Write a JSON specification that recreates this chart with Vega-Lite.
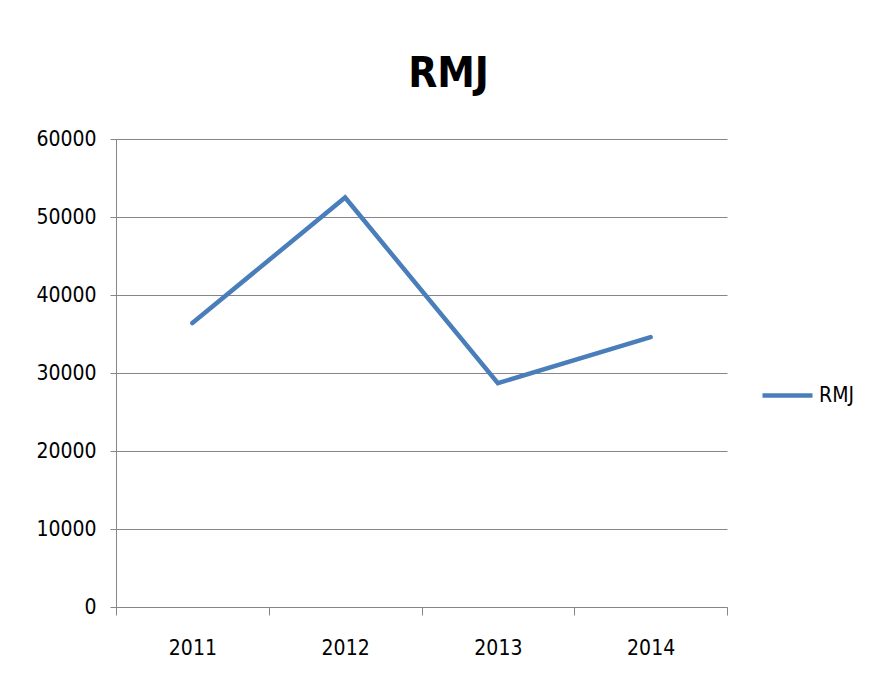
{
  "$schema": "https://vega.github.io/schema/vega-lite/v6.json",
  "width": 611,
  "height": 468,
  "autosize": {"type": "none"},
  "padding": {"left": 116, "top": 139, "right": 157, "bottom": 78},
  "background": "white",
  "title": {
    "text": "RMJ",
    "font": "DejaVu Sans Condensed, Liberation Sans, sans-serif",
    "fontSize": 42,
    "fontWeight": "bold",
    "color": "#000000",
    "anchor": "middle",
    "dx": 27,
    "offset": 32
  },
  "data": {
    "values": [
      {"year": "2011", "value": 36400, "series": "RMJ"},
      {"year": "2012", "value": 52500, "series": "RMJ"},
      {"year": "2013", "value": 28700, "series": "RMJ"},
      {"year": "2014", "value": 34600, "series": "RMJ"}
    ]
  },
  "mark": {"type": "line", "strokeWidth": 4.5, "strokeCap": "round", "strokeJoin": "miter"},
  "encoding": {
    "x": {
      "field": "year",
      "type": "ordinal",
      "bandPosition": 0.5,
      "scale": {"type": "band", "paddingInner": 0, "paddingOuter": 0},
      "axis": {
        "title": null,
        "labelAngle": 0,
        "tickBand": "extent",
        "ticks": true,
        "tickSize": 8,
        "tickColor": "#868686",
        "domainColor": "#868686",
        "labelFont": "DejaVu Sans Condensed, Liberation Sans, sans-serif",
        "labelFontSize": 21,
        "labelColor": "#000000",
        "labelPadding": 22,
        "grid": false
      }
    },
    "y": {
      "field": "value",
      "type": "quantitative",
      "scale": {"domain": [0, 60000], "nice": false},
      "axis": {
        "title": null,
        "values": [0, 10000, 20000, 30000, 40000, 50000, 60000],
        "format": "d",
        "grid": true,
        "gridColor": "#868686",
        "gridWidth": 1,
        "tickSize": 6,
        "tickColor": "#868686",
        "domainColor": "#868686",
        "labelFont": "DejaVu Sans Condensed, Liberation Sans, sans-serif",
        "labelFontSize": 21,
        "labelColor": "#000000",
        "labelPadding": 14
      }
    },
    "color": {
      "field": "series",
      "type": "nominal",
      "scale": {"range": ["#4A7EBB"]},
      "legend": {
        "title": null,
        "orient": "none",
        "legendX": 644,
        "legendY": 229,
        "symbolType": "stroke",
        "symbolSize": 2500,
        "symbolStrokeWidth": 4.5,
        "labelFont": "DejaVu Sans Condensed, Liberation Sans, sans-serif",
        "labelFontSize": 21,
        "labelColor": "#000000",
        "labelOffset": 4
      }
    }
  },
  "config": {
    "view": {"stroke": null}
  }
}
